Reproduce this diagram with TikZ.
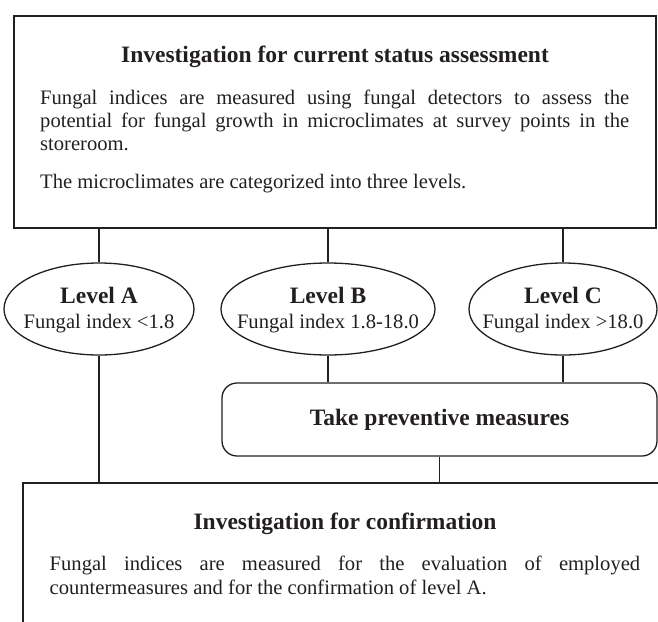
\documentclass[tikz,border=0pt]{standalone}
\usepackage{fontspec}
\setmainfont{Liberation Serif}
\usetikzlibrary{shapes.geometric}
\definecolor{ink}{HTML}{231F20}
\begin{document}
\begin{tikzpicture}[x=1pt,y=-1pt,
  conn/.style={draw=ink,line width=1.3pt},
  frame/.style={conn, rectangle, inner sep=0pt},
  oval/.style={conn, ellipse, inner sep=0pt, minimum height=92pt},
  hd/.style={font=\bfseries\fontsize{23.5}{26}\selectfont, text=ink, inner sep=0pt},
  bd/.style={font=\fontsize{20.6}{24}\selectfont, text=ink, inner sep=0pt}]
\clip (0,0) rectangle (658,621);
% top box
\node[frame, minimum width=642pt, minimum height=212pt] (top) at (335,122) {};
\node[hd, anchor=base] (toptitle) at (335,62.5) {Investigation for current status assessment};
\node[bd, anchor=base west] (t1) at (40,104.5) {\makebox[589pt][s]{Fungal indices are measured using fungal detectors to assess the}};
\node[bd, anchor=base west] (t2) at (40,127.5) {\makebox[589pt][s]{potential for fungal growth in microclimates at survey points in the}};
\node[bd, anchor=base west] (t3) at (40,150.5) {storeroom.};
\node[bd, anchor=base west] (t4) at (40,188) {The microclimates are categorized into three levels.};
% ellipses
\node[oval, minimum width=190pt] (A) at (99,309) {};
\node[oval, minimum width=214pt] (B) at (328,309) {};
\node[oval, minimum width=188pt] (C) at (563,309) {};
\node[hd, anchor=base] (Al) at (99,303) {Level A};
\node[bd, anchor=base] (Ai) at (99,328) {Fungal index <1.8};
\node[hd, anchor=base] (Bl) at (328,303) {Level B};
\node[bd, anchor=base] (Bi) at (328,328) {Fungal index 1.8-18.0};
\node[hd, anchor=base] (Cl) at (563,303) {Level C};
\node[bd, anchor=base] (Ci) at (563,328) {Fungal index >18.0};
% preventive measures
\node[frame, hd, rounded corners=15pt, minimum width=435pt, minimum height=73pt] (prev) at (439.5,419.5) {Take preventive measures};
% bottom box
\node[frame, minimum width=644pt, minimum height=170pt] (conf) at (345,568) {};
\node[hd, anchor=base] (conftitle) at (345,529) {Investigation for confirmation};
\node[bd, anchor=base west] (c1) at (49.5,570) {\makebox[590.5pt][s]{Fungal indices are measured for the evaluation of employed}};
\node[bd, anchor=base west] (c2) at (49.5,594) {countermeasures and for the confirmation of level A.};
% connectors
\draw[conn] (A.north |- top.south) -- (A.north);
\draw[conn] (B.north |- top.south) -- (B.north);
\draw[conn] (C.north |- top.south) -- (C.north);
\draw[conn] (B.south) -- (B.south |- prev.north);
\draw[conn] (C.south) -- (C.south |- prev.north);
\draw[conn] (A.south) -- (A.south |- conf.north);
\draw[conn] (prev.south) -- (prev.south |- conf.north);
\end{tikzpicture}
\end{document}
